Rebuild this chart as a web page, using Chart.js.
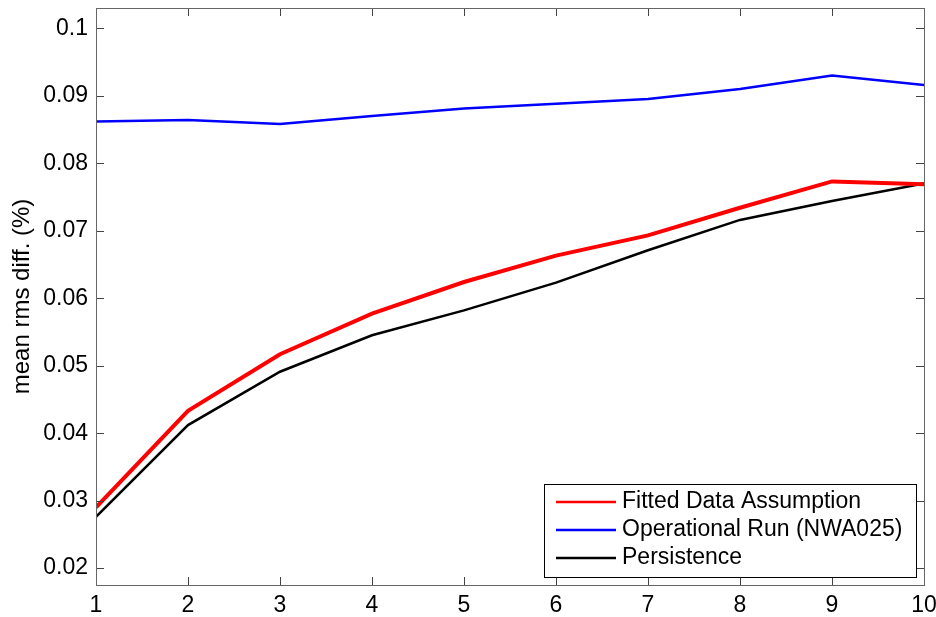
<!DOCTYPE html>
<html>
<head>
<meta charset="utf-8">
<script src="https://cdn.jsdelivr.net/npm/chart.js@4.4.1/dist/chart.umd.min.js"></script>
<style>
  html, body { margin: 0; padding: 0; background: #fff; }
  #wrap { width: 936px; height: 617px; }
</style>
</head>
<body>
<div id="wrap"><canvas id="chart" width="936" height="617"></canvas></div>
<script>
// lead time (x) and mean rms differences
const leadTimes = [1, 2, 3, 4, 5, 6, 7, 8, 9, 10];
const fittedData = [0.0290, 0.0433, 0.0517, 0.0577, 0.0624, 0.0663, 0.0693, 0.0734, 0.0773, 0.0769];
const operationalRun = [0.0862, 0.0864, 0.0858, 0.0870, 0.0881, 0.0888, 0.0895, 0.0910, 0.0930, 0.0916];
const persistence = [0.0276, 0.0412, 0.0491, 0.0545, 0.0582, 0.0623, 0.0671, 0.0716, 0.0744, 0.0770];
const xTicks = [1, 2, 3, 4, 5, 6, 7, 8, 9, 10];
const yTicks = [0.02, 0.03, 0.04, 0.05, 0.06, 0.07, 0.08, 0.09, 0.1];

const FONT = "'Liberation Sans', Arial, sans-serif";
Chart.defaults.color = "#000";
Chart.defaults.font.family = FONT;

const toPoints = (vals) => vals.map((v, i) => ({ x: leadTimes[i], y: v }));

// matlab-style box with inward ticks on all four sides
const frameTicks = {
  id: "frameTicks",
  afterDatasetsDraw(chart) {
    const { ctx, chartArea: a, scales } = chart;
    ctx.save();
    ctx.strokeStyle = "#444";
    ctx.lineWidth = 1;
    const len = 8;
    ctx.beginPath();
    xTicks.forEach((t) => {
      const px = Math.round(scales.x.getPixelForValue(t)) + 0.5;
      ctx.moveTo(px, a.bottom); ctx.lineTo(px, a.bottom - len);
      ctx.moveTo(px, a.top); ctx.lineTo(px, a.top + len);
    });
    yTicks.forEach((t) => {
      const py = Math.round(scales.y.getPixelForValue(t)) + 0.5;
      ctx.moveTo(a.left, py); ctx.lineTo(a.left + len, py);
      ctx.moveTo(a.right, py); ctx.lineTo(a.right - len, py);
    });
    ctx.stroke();
    ctx.strokeStyle = "#666";
    ctx.strokeRect(Math.round(a.left) + 0.5, Math.round(a.top) + 0.5,
      Math.round(a.right - a.left), Math.round(a.bottom - a.top));
    ctx.restore();
  }
};

// legend box inside the lower right of the plot
const boxLegend = {
  id: "boxLegend",
  afterDraw(chart) {
    const { ctx, chartArea: a } = chart;
    const x0 = a.right - 380, y0 = a.bottom - 101, w = 372, h = 93;
    ctx.save();
    ctx.fillStyle = "#fff";
    ctx.fillRect(x0, y0, w, h);
    ctx.strokeStyle = "#000";
    ctx.lineWidth = 1;
    ctx.strokeRect(x0 + 0.5, y0 + 0.5, w, h);
    ctx.font = "23px " + FONT;
    ctx.textBaseline = "middle";
    chart.data.datasets.forEach((ds, i) => {
      const y = y0 + 18 + i * 28;
      ctx.strokeStyle = ds.borderColor;
      ctx.lineWidth = 2.5;
      ctx.beginPath();
      ctx.moveTo(x0 + 12, y); ctx.lineTo(x0 + 72, y);
      ctx.stroke();
      ctx.fillStyle = "#000";
      ctx.fillText(ds.label, x0 + 78, y);
    });
    ctx.restore();
  }
};

new Chart(document.getElementById("chart"), {
  type: "line",
  data: {
    datasets: [
      { label: "Fitted Data Assumption", data: toPoints(fittedData), borderColor: "#ff0000", borderWidth: 4 },
      { label: "Operational Run (NWA025)", data: toPoints(operationalRun), borderColor: "#0000ff", borderWidth: 2.5 },
      { label: "Persistence", data: toPoints(persistence), borderColor: "#000000", borderWidth: 2.5 }
    ]
  },
  options: {
    responsive: false,
    animation: false,
    layout: { padding: { left: 0, right: 12, top: 8, bottom: 0 } },
    elements: { point: { radius: 0 }, line: { tension: 0 } },
    plugins: { legend: { display: false }, tooltip: { enabled: false } },
    scales: {
      x: {
        type: "linear",
        min: 1,
        max: 10,
        afterBuildTicks: (s) => { s.ticks = xTicks.map((v) => ({ value: v })); },
        afterFit: (s) => { s.height = 32; s.paddingLeft = 0; s.paddingRight = 0; },
        grid: { display: false, drawTicks: false },
        border: { display: false },
        ticks: { font: { size: 23 }, padding: 7, maxRotation: 0 }
      },
      y: {
        type: "linear",
        min: 0.0175,
        max: 0.103,
        afterBuildTicks: (s) => { s.ticks = yTicks.map((v) => ({ value: v })); },
        afterFit: (s) => { s.width = 96; s.paddingTop = 0; s.paddingBottom = 0; },
        grid: { display: false, drawTicks: false },
        border: { display: false },
        ticks: {
          font: { size: 23 },
          padding: 8,
          callback: (v) => String(Number(v.toFixed(3)))
        },
        title: {
          display: true,
          text: "mean rms diff. (%)",
          font: { size: 24 },
          padding: { top: 8, bottom: 0 }
        }
      }
    }
  },
  plugins: [frameTicks, boxLegend]
});
</script>
</body>
</html>
